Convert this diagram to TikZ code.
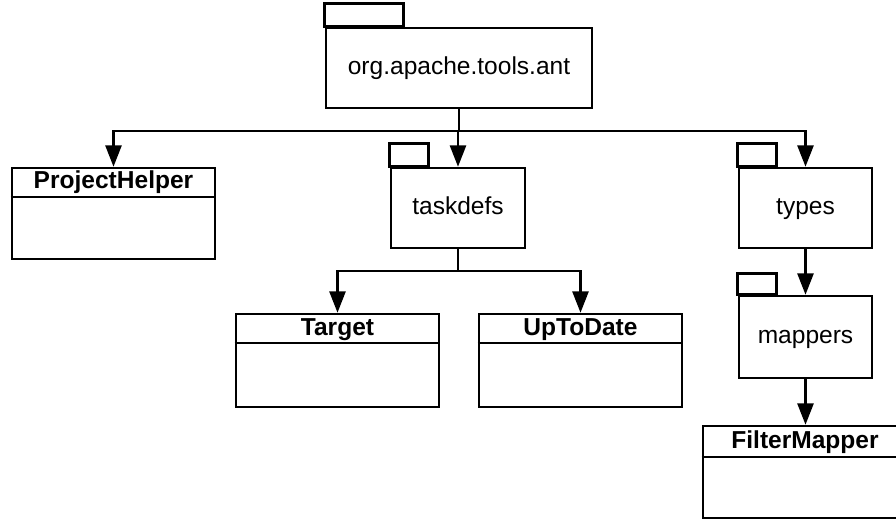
\documentclass[tikz,border=0pt]{standalone}
\usepackage{fontspec}
\setmainfont{Liberation Sans}
\usetikzlibrary{arrows.meta,fit}
\begin{document}
\begin{tikzpicture}[x=0.75pt,y=-0.75pt,
  every node/.style={font=\fontsize{18.4}{22}\selectfont},
  box/.style={draw, line width=1.9pt, inner sep=0pt, fill=white},
  tab/.style={draw, line width=1.9pt},
  divider/.style={draw, line width=1.9pt},
  wire/.style={line width=1.9pt},
  arr/.style={wire, -{Triangle[length=16pt,width=12pt]}},
  pkgname/.style={anchor=base, inner sep=0pt},
  classname/.style={font=\fontsize{18.4}{22}\selectfont\bfseries, anchor=base, inner sep=0pt}
]
\clip (0,0) rectangle (896,520);
\useasboundingbox (0,0) rectangle (896,520);

% packages: body plus tab on the upper left corner
\node[box, fit={(326,28)(592,108)}] (root) {};
\draw[tab] (root.north west) rectangle ++(79,-23);
\node[pkgname] (rootName) at (459,74.5) {org.apache.tools.ant};

\node[box, fit={(391,168)(525,248)}] (taskdefs) {};
\draw[tab] (taskdefs.north west) rectangle ++(39,-23);
\node[pkgname] (taskdefsName) at (458,214.5) {taskdefs};

\node[box, fit={(739,168)(872,248)}] (types) {};
\draw[tab] (types.north west) rectangle ++(39,-23);
\node[pkgname] (typesName) at (805.5,214.5) {types};

\node[box, fit={(739,296)(872,378)}] (mappers) {};
\draw[tab] (mappers.north west) rectangle ++(39,-21);
\node[pkgname] (mappersName) at (805.5,343.5) {mappers};

% classes: name compartment above an empty compartment
\node[box, fit={(12,168)(215,259)}] (projecthelper) {};
\draw[divider] (projecthelper.west |- 0,197) -- (projecthelper.east |- 0,197);
\node[classname] (projecthelperName) at (113.5,189) {ProjectHelper};

\node[box, fit={(236,314)(439,407)}] (target) {};
\draw[divider] (target.west |- 0,343) -- (target.east |- 0,343);
\node[classname] (targetName) at (337.5,335) {Target};

\node[box, fit={(479,314)(682,407)}] (uptodate) {};
\draw[divider] (uptodate.west |- 0,343) -- (uptodate.east |- 0,343);
\node[classname] (uptodateName) at (580.5,335) {UpToDate};

\node[box, fit={(703,426)(907,518)}] (filtermapper) {};
\draw[divider] (filtermapper.west |- 0,457) -- (filtermapper.east |- 0,457);
\node[classname] (filtermapperName) at (805,448) {FilterMapper};

% connectors
\coordinate (busA) at (root.south |- 0,131);
\draw[wire] (root.south) -- (busA);
\draw[arr] (busA) -| (projecthelper.north);
\draw[arr] (busA) -- (busA -| taskdefs.north) -- (taskdefs.north);
\draw[arr] (busA) -| (types.north);

\coordinate (busB) at (taskdefs.south |- 0,271);
\draw[wire] (taskdefs.south) -- (busB);
\draw[arr] (busB) -| (target.north);
\draw[arr] (busB) -| (uptodate.north);

\draw[arr] (types.south) -- (mappers.north);
\draw[arr] (mappers.south) -- (mappers.south |- filtermapper.north);
\end{tikzpicture}
\end{document}
